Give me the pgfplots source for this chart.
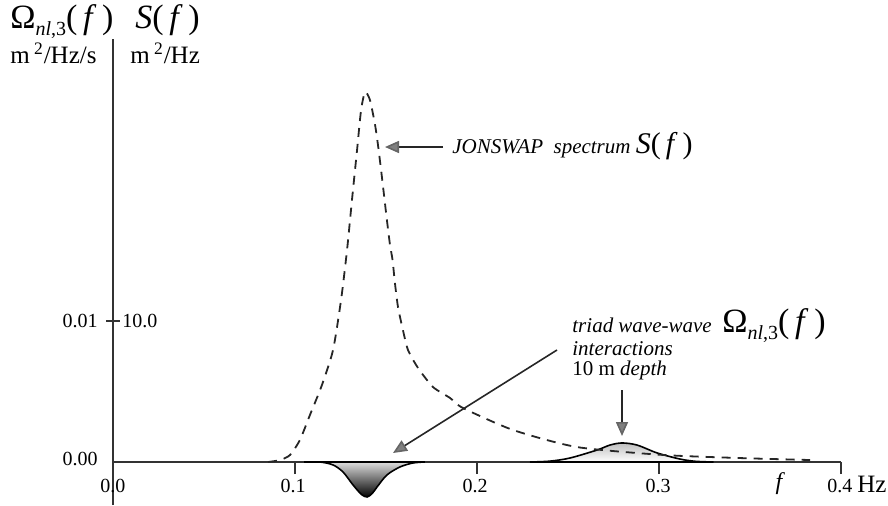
\documentclass[border=0pt]{standalone}
\usepackage{fontspec}
\setmainfont{Liberation Serif}
\usepackage{pgfplots}
\pgfplotsset{compat=1.18}
\usepackage{pgfplotstable}
\usetikzlibrary{arrows.meta}

\pgfplotstableread{
f S
0.0852 0
0.0918 0.14
0.0973 0.50
0.1027 1.56
0.1082 3.33
0.1148 5.46
0.1209 7.94
0.1253 11.49
0.1286 15.04
0.1313 18.58
0.1341 22.13
0.1363 24.96
0.1385 26.24
0.1412 25.67
0.1440 23.90
0.1456 22.48
0.1473 20.71
0.1489 18.94
0.1505 17.16
0.1522 15.39
0.1536 14.33
0.1549 12.70
0.1566 10.99
0.1593 9.36
0.1621 7.94
0.1676 6.67
0.1758 5.32
0.1852 4.54
0.1923 3.83
0.2198 2.27
0.2549 1.06
0.3022 0.50
0.3445 0.28
0.3830 0.14
}\jonswap

\pgfplotstableread{
f O
0.1050 0
0.1137 0
0.1209 -0.00021
0.1264 -0.00071
0.1319 -0.00163
0.1365 -0.00230
0.1396 -0.00248
0.1425 -0.00222
0.1451 -0.00177
0.1505 -0.00092
0.1577 -0.00035
0.1648 -0.00007
0.1714 0
}\omneg

\pgfplotstableread{
f O
0.2290 0
0.2400 0.00006
0.2510 0.00028
0.2660 0.00085
0.2730 0.00120
0.2797 0.00135
0.2880 0.00120
0.2990 0.00064
0.3115 0.00021
0.3200 0.00005
0.3300 0
}\ompos

\tikzset{annarrow/.style={line width=0.8pt, black!85,
    -{Triangle[length=7pt, width=6pt, fill=gray, color=gray!80!black]}}}

\begin{document}
\begin{tikzpicture}
\begin{axis}[
  at={(0,0)}, anchor=south west,
  scale only axis, width=364pt, height=233pt,
  xmin=0, xmax=0.4, ymin=-3.05, ymax=30,
  axis lines=middle,
  axis line style={-, line width=0.9pt, black!80},
  xtick={0.1,0.2,0.3,0.4}, ytick=\empty,
  xticklabels={},
  tick align=outside, major tick length=6pt,
  tick style={line width=0.8pt, black!80},
  clip=false,
]
\addplot[smooth, tension=0.5, draw=black, line width=0.8pt,
  top color=gray!25, bottom color=black]
  table[x=f, y expr=1000*\thisrow{O}] {\omneg} \closedcycle;
\addplot[smooth, tension=0.5, draw=black, line width=0.8pt,
  top color=gray!50, bottom color=white]
  table[x=f, y expr=1000*\thisrow{O}] {\ompos} \closedcycle;
\addplot[smooth, tension=0.4, draw=black!85, line width=0.9pt,
  dash pattern=on 4.5pt off 3.5pt]
  table[x=f, y=S] {\jonswap};
\end{axis}

\begin{scope}[x=0.5pt, y=-0.5pt, shift={(-113,-505)}]
  % tick labels
  \begin{scope}[font=\fontsize{10}{12}\selectfont]
    \node at (113,486) {0.0};
    \node at (293,486) {0.1};
    \node at (475,486) {0.2};
    \node at (658,486) {0.3};
    \node[anchor=base west, inner sep=0pt] at (827,492) {0.4 {\fontsize{12.5}{14}\selectfont Hz}};
    \node[anchor=east, inner sep=0pt] at (98,459) {0.00};
    \node[anchor=east, inner sep=0pt] at (98,321) {0.01};
    \node[anchor=west, inner sep=0pt] at (122,321) {10.0};
  \end{scope}
  \draw[line width=0.8pt, black!80] (106,321) -- (120,321);
  \node[font=\fontsize{12}{14}\selectfont\itshape] at (779,484) {f};

  % axis titles
  \node[anchor=base west, inner sep=0pt, font=\fontsize{17}{20}\selectfont] at (10,28)
    {Ω\raisebox{-0.45ex}{\fontsize{10}{12}\selectfont\textit{nl},3}(\,\textit{f}\,)};
  \node[anchor=base west, inner sep=0pt, font=\fontsize{17}{20}\selectfont] at (135,28)
    {\textit{S}(\,\textit{f}\,)};
  \node[anchor=base west, inner sep=0pt, font=\fontsize{12.5}{14}\selectfont] at (10,63)
    {m\,\textsuperscript{2}/Hz/s};
  \node[anchor=base west, inner sep=0pt, font=\fontsize{12.5}{14}\selectfont] at (130,63)
    {m\,\textsuperscript{2}/Hz};

  % JONSWAP annotation
  \draw[annarrow] (443,147) -- (385,147);
  \node[anchor=base west, inner sep=0pt, font=\fontsize{10.5}{12}\selectfont] at (452,153)
    {\textit{JONSWAP\ \ spectrum} {\fontsize{15}{17}\selectfont\textit{S}(\,\textit{f}\,)}};

  % triad annotation
  \draw[annarrow] (557,350) -- (393,453);
  \draw[annarrow] (622,390) -- (622,436);
  \node[anchor=base west, inner sep=0pt, font=\fontsize{10.5}{12}\selectfont] at (572,332)
    {\textit{triad\ wave-wave}};
  \node[anchor=base west, inner sep=0pt, font=\fontsize{17}{20}\selectfont] at (722,332)
    {Ω\raisebox{-0.45ex}{\fontsize{10}{12}\selectfont\textit{nl},3}(\,\textit{f}\,)};
  \node[anchor=base west, inner sep=0pt, font=\fontsize{10.5}{12}\selectfont] at (572,355)
    {\textit{interactions}};
  \node[anchor=base west, inner sep=0pt, font=\fontsize{10.5}{12}\selectfont] at (572,375)
    {10 m \textit{depth}};

  \pgfresetboundingbox
  \path (0,0) rectangle (888,505);
\end{scope}
\end{tikzpicture}
\end{document}
